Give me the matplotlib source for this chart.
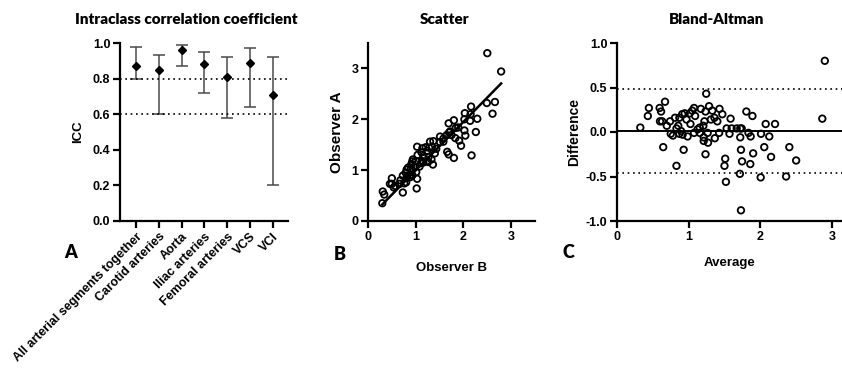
import matplotlib
matplotlib.use("Agg")
import matplotlib.pyplot as plt
import numpy as np

# panel A: ICC with 95% CI
segments = [
    "All arterial segments together",
    "Carotid arteries",
    "Aorta",
    "Iliac arteries",
    "Femoral arteries",
    "VCS",
    "VCI",
]
icc = [0.87, 0.85, 0.96, 0.88, 0.81, 0.89, 0.71]
icc_low = [0.80, 0.60, 0.87, 0.72, 0.58, 0.64, 0.20]
icc_high = [0.98, 0.93, 0.99, 0.95, 0.92, 0.97, 0.92]
icc_refs = [0.8, 0.6]

# panel B / C: paired measurements
observer_b = [
    0.30, 0.31, 0.34, 0.46, 0.50, 0.54, 0.50, 0.57, 0.73, 0.66,
    0.68, 0.76, 0.80, 0.73, 0.81, 0.79, 0.82, 1.02, 0.89, 0.81,
    1.03, 0.84, 0.90, 1.01, 0.91, 0.93, 0.94, 1.00, 1.11, 1.08,
    1.16, 1.04, 1.17, 1.24, 1.12, 1.03, 1.27, 1.16, 1.14, 1.33,
    1.36, 1.24, 1.21, 1.28, 1.40, 1.34, 1.30, 1.43, 1.37, 1.66,
    1.69, 1.51, 1.80, 1.58, 1.51, 1.58, 1.65, 1.70, 1.75, 1.83,
    1.91, 1.95, 2.17, 1.72, 1.69, 1.84, 1.89, 2.04, 1.80, 2.02,
    2.26, 2.02, 2.14, 2.03, 2.15, 2.29, 2.61, 2.49, 2.66, 2.79,
    2.50, 2.16, 1.13, 1.26, 0.98, 0.88, 0.93,
]
observer_a = [
    0.35, 0.58, 0.52, 0.73, 0.73, 0.66, 0.84, 0.69, 0.56, 0.73,
    0.80, 0.74, 0.76, 0.89, 0.85, 0.95, 0.89, 0.64, 0.90, 1.01,
    0.83, 1.05, 1.04, 0.96, 1.12, 1.17, 1.21, 1.18, 1.14, 1.07,
    1.15, 1.30, 1.24, 1.18, 1.35, 1.46, 1.26, 1.28, 1.43, 1.21,
    1.11, 1.38, 1.45, 1.44, 1.33, 1.46, 1.56, 1.42, 1.57, 1.36,
    1.31, 1.55, 1.24, 1.56, 1.66, 1.62, 1.69, 1.74, 1.69, 1.63,
    1.58, 1.48, 1.29, 1.76, 1.92, 1.83, 1.84, 1.68, 1.98, 1.78,
    1.75, 2.00, 1.97, 2.12, 2.10, 2.01, 2.11, 2.32, 2.34, 2.94,
    3.30, 2.25, 1.18, 1.16, 1.07, 0.86, 0.90,
]
fit_slope = 0.955
fit_intercept = 0.04
bias = 0.01
loa = [0.48, -0.46]

plt.rcParams["font.family"] = ["Liberation Sans", "DejaVu Sans"]
plt.rcParams["font.weight"] = "bold"
plt.rcParams["axes.labelweight"] = "bold"
TITLE_FONT = "Lato"
W, H = 842, 373


def box(left, right, top, bottom):
    return [left / W, 1 - bottom / H, (right - left) / W, (bottom - top) / H]


def style_axes(ax):
    for side in ("top", "right"):
        ax.spines[side].set_visible(False)
    for side in ("left", "bottom"):
        ax.spines[side].set_linewidth(1.6)
    ax.tick_params(width=1.6, length=5, labelsize=9, pad=2)


fig = plt.figure(figsize=(W / 100, H / 100), dpi=100)

# ---- A: ICC
ax_a = fig.add_axes(box(120, 288, 43, 221))
pos = np.arange(len(segments))
icc = np.array(icc)
yerr = [icc - np.array(icc_low), np.array(icc_high) - icc]
ax_a.errorbar(pos, icc, yerr=yerr, fmt="D", color="black", markersize=4,
              ecolor="#4a4a4a", elinewidth=1.1, capsize=4, capthick=1.1)
for ref in icc_refs:
    ax_a.axhline(ref, color="black", linestyle=(0, (1, 2.2)), linewidth=1.2)
ax_a.set_xlim(-0.7, 6.67)
ax_a.set_ylim(0, 1.0)
ax_a.set_yticks(np.arange(0, 1.01, 0.2))
ax_a.yaxis.set_major_formatter(matplotlib.ticker.FormatStrFormatter("%.1f"))
ax_a.set_xticks(pos)
ax_a.set_xticklabels(segments, rotation=45, ha="right", rotation_mode="anchor")
ax_a.set_ylabel("ICC", fontsize=9.5, labelpad=6)
style_axes(ax_a)

# ---- B: scatter
ax_b = fig.add_axes(box(368, 535, 43, 221))
ax_b.scatter(observer_b, observer_a, s=22, facecolors="none", edgecolors="black",
             linewidths=1.3, zorder=3)
fit_x = np.array([min(observer_b), max(observer_b)])
ax_b.plot(fit_x, fit_slope * fit_x + fit_intercept, color="black", linewidth=1.8)
ax_b.set_xlim(0, 3.5)
ax_b.set_ylim(0, 3.5)
ax_b.set_xticks([0, 1, 2, 3])
ax_b.set_yticks([0, 1, 2, 3])
ax_b.set_xlabel("Observer B", fontsize=9.5, labelpad=14)
ax_b.set_ylabel("Observer A", fontsize=11, labelpad=5)
style_axes(ax_b)

# ---- C: Bland-Altman
a = np.array(observer_a)
b = np.array(observer_b)
ax_c = fig.add_axes(box(617, 842, 43, 221))
ax_c.scatter((a + b) / 2, a - b, s=22, facecolors="none", edgecolors="black",
             linewidths=1.3, zorder=3)
ax_c.axhline(bias, color="black", linewidth=1.4)
for lim in loa:
    ax_c.axhline(lim, color="black", linestyle=(0, (1, 2.2)), linewidth=1.2)
ax_c.set_xlim(0, 3.14)
ax_c.set_ylim(-1.0, 1.0)
ax_c.set_xticks([0, 1, 2, 3])
ax_c.set_yticks([-1.0, -0.5, 0.0, 0.5, 1.0])
ax_c.yaxis.set_major_formatter(matplotlib.ticker.FormatStrFormatter("%.1f"))
ax_c.set_xlabel("Average", fontsize=9.5, labelpad=10)
ax_c.set_ylabel("Difference", fontsize=10, labelpad=3)
style_axes(ax_c)

# titles and panel letters
title_kw = dict(fontfamily=TITLE_FONT, fontweight="heavy", fontsize=11, ha="center", va="center")
fig.text(186 / W, 1 - 20 / H, "Intraclass correlation coefficient", **title_kw)
fig.text(445 / W, 1 - 20 / H, "Scatter", **title_kw)
fig.text(717 / W, 1 - 20 / H, "Bland-Altman", **title_kw)
letter_kw = dict(fontfamily=TITLE_FONT, fontweight="heavy", fontsize=13, ha="center", va="center")
fig.text(71 / W, 1 - 253 / H, "A", **letter_kw)
fig.text(340 / W, 1 - 254 / H, "B", **letter_kw)
fig.text(568 / W, 1 - 253 / H, "C", **letter_kw)

fig.savefig("out.png", dpi=100)
